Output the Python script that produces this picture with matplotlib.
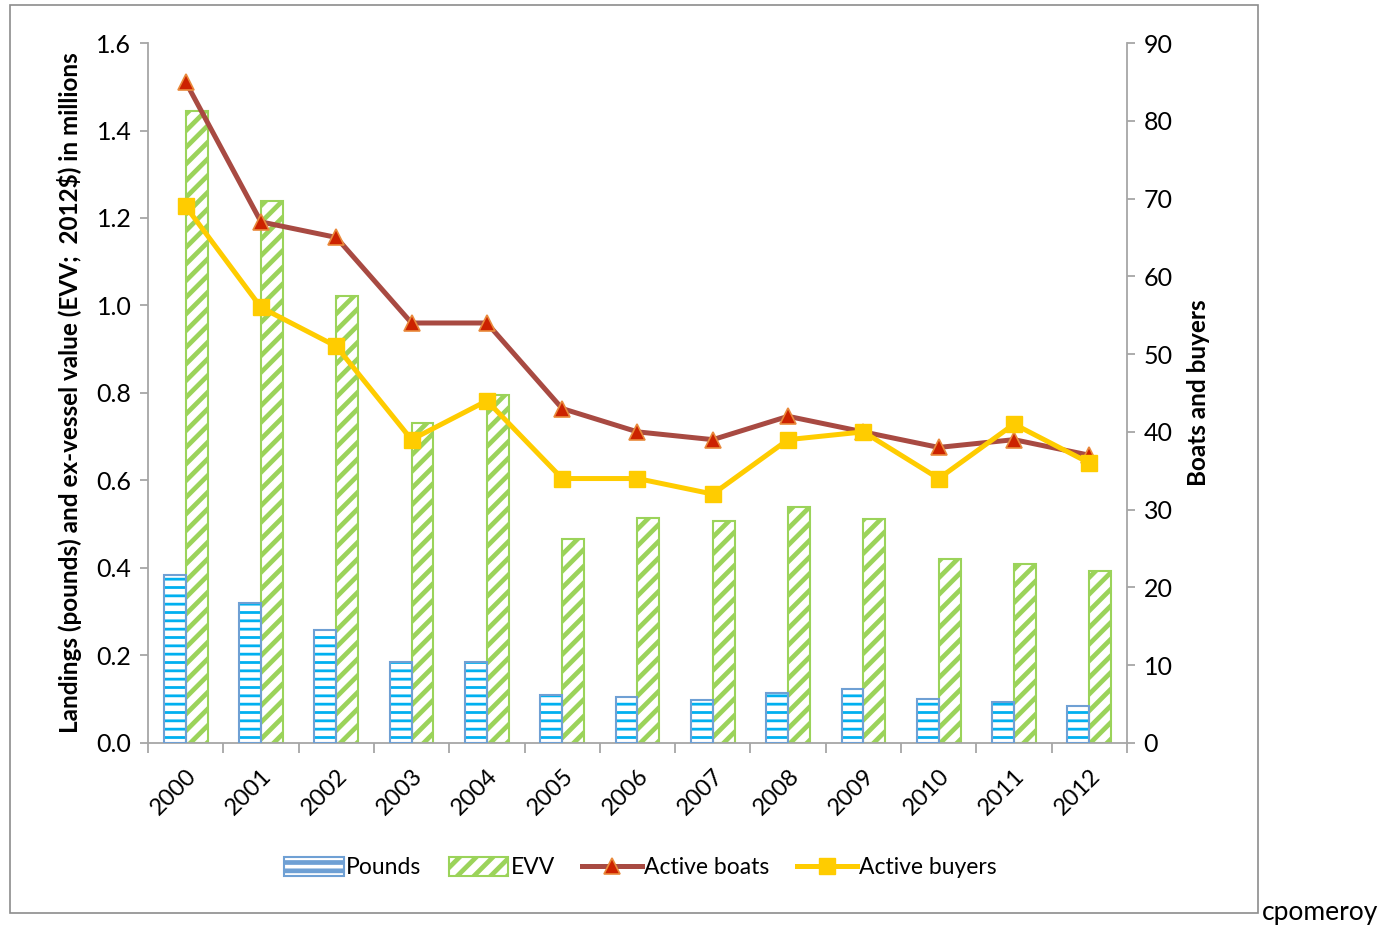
import numpy as np
import matplotlib
matplotlib.use("Agg")
import matplotlib.pyplot as plt
from matplotlib.patches import Rectangle
from matplotlib.ticker import FixedLocator, FormatStrFormatter

plt.rcParams['font.family'] = ['Lato', 'DejaVu Sans']

years = ['2000', '2001', '2002', '2003', '2004', '2005', '2006',
         '2007', '2008', '2009', '2010', '2011', '2012']
pounds = [0.384, 0.320, 0.258, 0.185, 0.185, 0.110, 0.105,
          0.098, 0.114, 0.123, 0.100, 0.094, 0.085]
evv = [1.445, 1.239, 1.022, 0.731, 0.795, 0.466, 0.514,
       0.507, 0.539, 0.512, 0.420, 0.409, 0.393]
active_boats = [85, 67, 65, 54, 54, 43, 40, 39, 42, 40, 38, 39, 37]
active_buyers = [69, 56, 51, 39, 44, 34, 34, 32, 39, 40, 34, 41, 36]

x = np.arange(len(years))
w = 0.29
grey = '#a6a6a6'

fig = plt.figure(figsize=(13.86, 9.25), dpi=100)
ax = fig.add_axes([0.1068, 0.1968, 0.7063, 0.7567])

# pounds bars: cyan horizontal hatch + blue edge
plt.rcParams['hatch.linewidth'] = 2.0
ax.bar(x - w / 2, pounds, w, facecolor='white', edgecolor='#00b0f0',
       hatch='--', linewidth=0, zorder=2)
ax.bar(x - w / 2, pounds, w, facecolor='none', edgecolor='#6fa0d4',
       linewidth=1.5, zorder=3)
p1 = Rectangle((0, 0), 1, 1, facecolor='white', edgecolor='#6fa0d4',
               hatch='--', linewidth=1.5)

plt.rcParams['hatch.linewidth'] = 3.4
b2 = ax.bar(x + w / 2, evv, w, facecolor='white', edgecolor='#9bd35a',
            hatch='//', linewidth=1.5, zorder=2)

ax.set_xlim(-0.5, len(years) - 0.5)
ax.set_ylim(0, 1.6)
ax.yaxis.set_major_locator(FixedLocator(np.arange(0, 1.61, 0.2)))
ax.yaxis.set_major_formatter(FormatStrFormatter('%.1f'))
ax.set_xticks(x)
ax.set_xticklabels(years, rotation=45, ha='right', rotation_mode='anchor',
                   fontsize=17)
ax.set_xticks(np.arange(-0.5, len(years)), minor=True)
ax.tick_params(axis='x', which='major', length=0, pad=16)
ax.tick_params(axis='x', which='minor', length=7, color=grey, width=1.3)
ax.tick_params(axis='y', length=6, color=grey, width=1.3, labelsize=18, pad=6)
ax.spines['top'].set_visible(False)
ax.spines['right'].set_visible(False)
for s in ['left', 'bottom']:
    ax.spines[s].set_color(grey)
    ax.spines[s].set_linewidth(1.3)
ax.set_ylabel('Landings (pounds) and ex-vessel value (EVV;  2012$) in millions',
              fontsize=17.5, fontweight='bold', labelpad=10)

ax2 = ax.twinx()
ax2.set_ylim(0, 90)
ax2.yaxis.set_major_locator(FixedLocator(np.arange(0, 91, 10)))
l1, = ax2.plot(x, active_boats, color='#a84a42', linewidth=3.6, marker='^',
               markersize=11, markerfacecolor='#cc2200',
               markeredgecolor='#e98a3c', markeredgewidth=1.2, zorder=4)
l2, = ax2.plot(x, active_buyers, color='#ffcc00', linewidth=3.6, marker='s',
               markersize=12, markerfacecolor='#ffcc00',
               markeredgecolor='#ffcc00', zorder=5)
ax2.spines['top'].set_visible(False)
ax2.spines['left'].set_visible(False)
ax2.spines['bottom'].set_visible(False)
ax2.spines['right'].set_color(grey)
ax2.spines['right'].set_linewidth(1.3)
ax2.tick_params(axis='y', length=6, color=grey, width=1.3, labelsize=18, pad=6)
ax2.set_ylabel('Boats and buyers', fontsize=17.5, fontweight='bold',
               labelpad=10)

fig.legend([p1, b2, l1, l2], ['Pounds', 'EVV', 'Active boats', 'Active buyers'],
           loc='center', bbox_to_anchor=(0.462, 0.062), ncol=4, frameon=False,
           fontsize=16.5, handlelength=2.6, handleheight=0.9, columnspacing=1.2,
           handletextpad=0.1)

fig.patches.append(Rectangle((0.0072, 0.013), 0.9004, 0.9816,
                             transform=fig.transFigure, fill=False,
                             edgecolor='#8c8c8c', linewidth=1.2))
fig.text(0.9105, 0.014, 'cpomeroy', fontsize=19, ha='left', va='center')

fig.savefig('out.png', dpi=100)
